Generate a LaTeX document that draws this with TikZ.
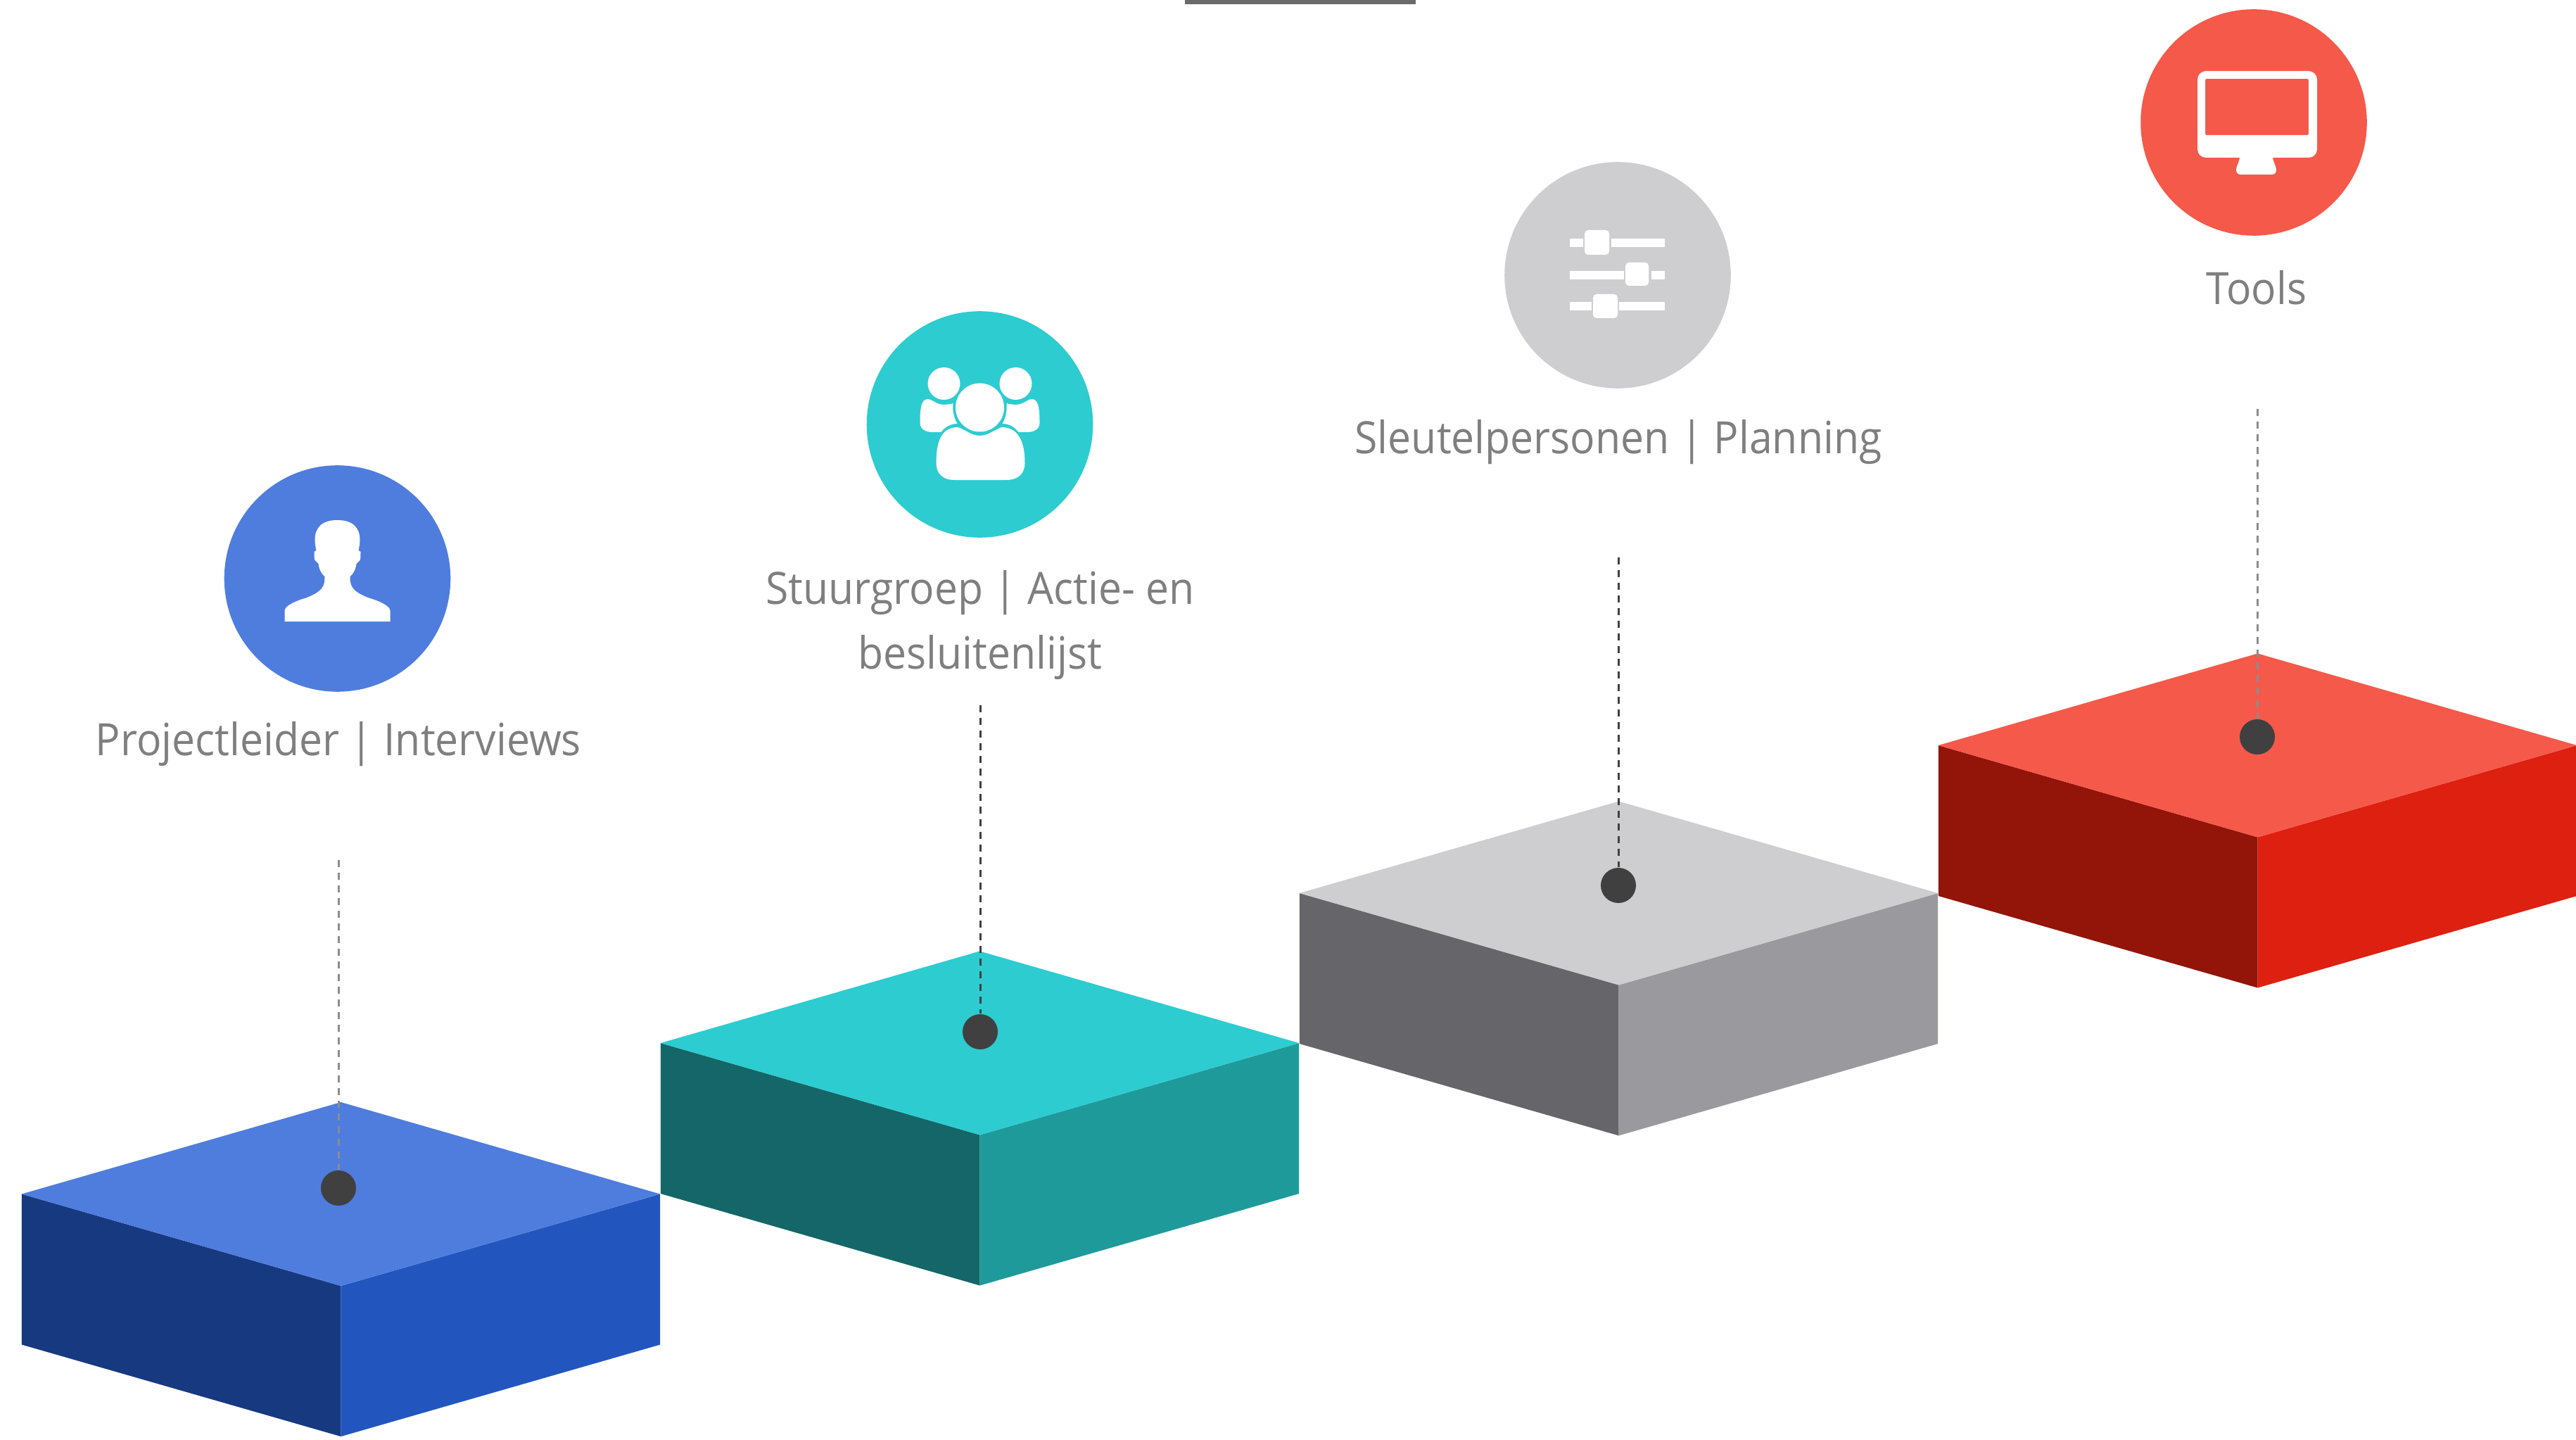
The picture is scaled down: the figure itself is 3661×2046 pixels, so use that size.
\documentclass[tikz,border=0pt]{standalone}
\usepackage{fontspec}
\setmainfont[FakeStretch=0.93]{Open Sans}
\usepackage{color}
\usepackage{tikz}
\definecolor{topblue}{RGB}{79, 125, 222}
\definecolor{leftblue}{RGB}{23, 57, 128}
\definecolor{rightblue}{RGB}{34, 86, 190}
\definecolor{topteal}{RGB}{45, 204, 208}
\definecolor{leftteal}{RGB}{21, 102, 104}
\definecolor{rightteal}{RGB}{31, 154, 155}
\definecolor{topgrey}{RGB}{206, 206, 208}
\definecolor{leftgrey}{RGB}{102, 101, 105}
\definecolor{rightgrey}{RGB}{154, 153, 157}
\definecolor{topred}{RGB}{245, 89, 74}
\definecolor{leftred}{RGB}{147, 20, 8}
\definecolor{rightred}{RGB}{221, 32, 16}
\definecolor{dotdark}{RGB}{64, 64, 64}
\definecolor{dashlight}{RGB}{140, 140, 140}
\definecolor{labelgrey}{RGB}{127, 127, 127}
\definecolor{barline}{RGB}{106, 106, 106}
\tikzset{
  roundel/.style={circle, minimum size=3.214cm, inner sep=0pt},
  dotnode/.style={circle, fill=dotdark, minimum size=0.5cm, inner sep=0pt},
  dashline/.style={line width=0.03cm, dash pattern=on 0.1cm off 0.08cm},
  labeltext/.style={text=labelgrey, font=\fontsize{18}{26}\selectfont, align=center,
                    inner sep=0pt, anchor=base}
}
\newcommand{\stepblock}[5]{
  \fill[fill=#4] (#1 - \Dx, #2) -- (#1, #2 + \Dy) -- (#1, #2 + \Dy + \Dz)
    -- (#1 - \Dx, #2 + \Dz) -- cycle;
  \fill[fill=#5] (#1 + \Dx, #2) -- (#1, #2 + \Dy) -- (#1, #2 + \Dy + \Dz)
    -- (#1 + \Dx, #2 + \Dz) -- cycle;
  \fill[fill=#3] (#1 - \Dx, #2) -- (#1, #2 - \Dy) -- (#1 + \Dx, #2)
    -- (#1, #2 + \Dy) -- cycle;
}
\newcommand{\leader}[5]{
  \coordinate (#1Top) at (#2, #3);
  \node[dotnode] (#1Dot) at (#2, #4) {};
  \draw[dashline, color=#5] (#1Top) -- (#1Dot);
}

\begin{document}
\begin{tikzpicture}[x=0.01cm, y=-0.01cm]
  \useasboundingbox (0, 0) rectangle (3661, 2046);

  % Size
  \pgfmathsetmacro{\Dx}{453.7}
  \pgfmathsetmacro{\Dy}{130.5}
  \pgfmathsetmacro{\Dz}{214}

  % Positioning
  \pgfmathsetmacro{\dx}{908}
  \pgfmathsetmacro{\xo}{484.5}

  % Bar at the top
  \fill[barline] (1684, 0) rectangle (2012, 6);

  % Blocks
  \stepblock{\xo}{1696.5}{topblue}{leftblue}{rightblue}
  \stepblock{\xo + \dx}{1482}{topteal}{leftteal}{rightteal}
  \stepblock{\xo + 2 * \dx}{1269}{topgrey}{leftgrey}{rightgrey}
  \stepblock{\xo + 3 * \dx}{1059}{topred}{leftred}{rightred}

  % Leaders
  \leader{leadOne}{481}{1222}{1688}{dashlight}
  \leader{leadTwo}{1393}{1002}{1466}{dotdark}
  \leader{leadThree}{2300}{792}{1258}{dotdark}
  \leader{leadFour}{3208}{581}{1047}{dashlight}

  % Roundels
  \node[roundel, fill=topblue] (circOne) at (479.5, 822) {};
  \node[roundel, fill=topteal] (circTwo) at (1392.5, 603) {};
  \node[roundel, fill=topgrey] (circThree) at (2299, 391) {};
  \node[roundel, fill=topred] (circFour) at (3203, 174) {};

  % Labels
  \node[labeltext] (labelOne) at (481, 1073) {Projectleider | Interviews};
  \node[labeltext] (labelTwo) at (1393, 950) {Stuurgroep | Actie- en\\besluitenlijst};
  \node[labeltext] (labelThree) at (2300, 645) {Sleutelpersonen | Planning};
  \node[labeltext] (labelFour) at (3207, 433) {Tools};

  % Person
  \begin{scope}[shift={(circOne.center)}]
    \fill[white] (0, -83) .. controls (-22, -83) and (-32, -72) .. (-32, -55)
      .. controls (-32, -50) and (-31, -45) .. (-30, -40) -- (-33, -38)
      .. controls (-33, -33) and (-33, -28) .. (-32, -26) -- (-27, -21)
      .. controls (-26, -14) and (-24, -8) .. (-18, -3)
      .. controls (-18, 8) and (-18, 18) .. (-46, 28)
      .. controls (-60, 32) and (-75, 39) .. (-75, 46) -- (-75, 61) -- (75, 61) -- (75, 46)
      .. controls (75, 39) and (60, 32) .. (46, 28)
      .. controls (18, 18) and (18, 8) .. (18, -3)
      .. controls (24, -8) and (26, -14) .. (27, -21) -- (32, -26)
      .. controls (33, -28) and (33, -33) .. (33, -38) -- (30, -40)
      .. controls (31, -45) and (32, -50) .. (32, -55)
      .. controls (32, -72) and (22, -83) .. (0, -83) -- cycle;
  \end{scope}

  % Group
  \begin{scope}[shift={(circTwo.center)}]
    \fill[white] (0, -24) circle (34.5);
    \fill[white] (-51, -58) circle (23);
    \fill[white] (51, -58) circle (23);
    \fill[white] (-31, 4) .. controls (-20, 8) and (-12, 16) .. (0, 16)
      .. controls (12, 16) and (20, 8) .. (31, 4)
      .. controls (55, 4) and (64, 25) .. (64, 55)
      .. controls (64, 70) and (54, 79) .. (38, 79) -- (-37, 79)
      .. controls (-52, 79) and (-62, 70) .. (-62, 55)
      .. controls (-62, 25) and (-55, 4) .. (-31, 4) -- cycle;
    \fill[white] (-74, -36) .. controls (-68, -36) and (-62, -28) .. (-51, -28)
      .. controls (-46, -28) and (-42, -29) .. (-38, -30)
      .. controls (-39, -20) and (-37, -9) .. (-32, -1)
      .. controls (-42, -1) and (-50, 4) .. (-55, 11) -- (-67, 11)
      .. controls (-78, 11) and (-85, 6) .. (-85, -2)
      .. controls (-85, -20) and (-84, -36) .. (-74, -36) -- cycle;
    \fill[white] (74, -36) .. controls (68, -36) and (62, -28) .. (51, -28)
      .. controls (46, -28) and (42, -29) .. (38, -30)
      .. controls (39, -20) and (37, -9) .. (32, -1)
      .. controls (42, -1) and (50, 4) .. (55, 11) -- (67, 11)
      .. controls (78, 11) and (85, 6) .. (85, -2)
      .. controls (85, -20) and (84, -36) .. (74, -36) -- cycle;
  \end{scope}

  % Sliders
  \begin{scope}[shift={(circThree.center)}]
    \fill[white] (-68, -52) rectangle (-49, -40);
    \fill[white] (-9, -52) rectangle (67, -40);
    \fill[white, rounded corners=0.05cm] (-47, -64) rectangle (-12, -29);
    \fill[white] (-68, -6) rectangle (9, 6);
    \fill[white] (48, -6) rectangle (67, 6);
    \fill[white, rounded corners=0.05cm] (11, -18) rectangle (44, 15);
    \fill[white] (-68, 38) rectangle (-37, 50);
    \fill[white] (2, 38) rectangle (67, 50);
    \fill[white, rounded corners=0.05cm] (-35, 27) rectangle (0, 61);
  \end{scope}

  % Screen
  \begin{scope}[shift={(circFour.center)}]
    \fill[white, even odd rule, rounded corners=0.12cm] (-80, -73) rectangle (90, 50)
      {[rounded corners=0.02cm] (-69, -62) rectangle (78, 18)};
    \fill[white] (-20, 49) .. controls (-20, 56) and (-25, 62) .. (-25, 67)
      .. controls (-25, 71) and (-23, 74) .. (-19, 74) -- (26, 74)
      .. controls (30, 74) and (32, 71) .. (32, 67)
      .. controls (32, 62) and (27, 56) .. (27, 49) -- cycle;
  \end{scope}
\end{tikzpicture}
\end{document}
